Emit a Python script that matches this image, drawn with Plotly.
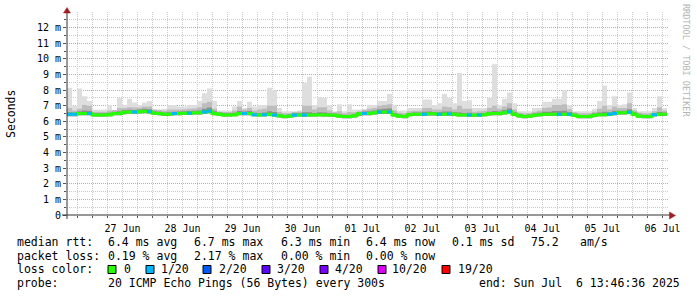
import plotly.graph_objects as go
from datetime import datetime, timedelta

# ---------------- data (2-hour steps from start) ----------------
start = datetime(2025, 6, 26, 13, 46, 36)
step_hours = 2

median = [
    6.45, 6.45, 6.50, 6.50, 6.50, 6.40, 6.40, 6.40, 6.42, 6.50,
    6.50, 6.58, 6.60, 6.60, 6.62, 6.65, 6.62, 6.52, 6.50, 6.45,
    6.45, 6.50, 6.50, 6.52, 6.52, 6.55, 6.55, 6.60, 6.65, 6.50,
    6.45, 6.40, 6.40, 6.42, 6.50, 6.50, 6.50, 6.42, 6.40, 6.42,
    6.45, 6.40, 6.35, 6.30, 6.32, 6.40, 6.40, 6.40, 6.40, 6.40,
    6.42, 6.40, 6.40, 6.38, 6.32, 6.30, 6.30, 6.35, 6.48, 6.50,
    6.50, 6.55, 6.60, 6.60, 6.60, 6.40, 6.33, 6.30, 6.42, 6.45,
    6.45, 6.45, 6.48, 6.48, 6.45, 6.45, 6.48, 6.45, 6.40, 6.40,
    6.40, 6.38, 6.40, 6.42, 6.48, 6.50, 6.50, 6.55, 6.62, 6.45,
    6.35, 6.30, 6.32, 6.38, 6.42, 6.45, 6.45, 6.45, 6.45, 6.45,
    6.45, 6.38, 6.30, 6.30, 6.30, 6.38, 6.42, 6.42, 6.45, 6.50,
    6.55, 6.55, 6.58, 6.45, 6.32, 6.30, 6.30, 6.42, 6.45, 6.45,
]

loss = [
    1, 1, 0, 0, 1, 0, 0, 0, 0, 0,
    0, 0, 0, 1, 0, 0, 1, 0, 0, 0,
    0, 1, 0, 0, 1, 0, 0, 1, 1, 0,
    0, 0, 0, 0, 0, 1, 0, 1, 0, 1,
    0, 1, 0, 0, 0, 1, 0, 1, 0, 0,
    0, 0, 0, 0, 0, 0, 0, 0, 0, 1,
    0, 0, 1, 0, 1, 0, 0, 0, 0, 0,
    0, 1, 0, 0, 1, 0, 1, 0, 0, 0,
    1, 0, 1, 0, 0, 0, 0, 0, 1, 0,
    0, 0, 0, 0, 0, 0, 0, 0, 1, 0,
    1, 0, 0, 0, 0, 0, 0, 0, 1, 1,
    0, 0, 1, 0, 0, 0, 0, 1, 0, 0,
]

smoke_max = [
    8.15, 7.00, 8.10, 7.60, 7.30, 6.75, 6.75, 6.75, 7.05, 6.70,
    7.50, 7.05, 7.45, 7.20, 7.05, 7.20, 7.30, 6.75, 6.75, 6.80,
    7.05, 7.05, 6.95, 6.95, 7.05, 7.05, 7.30, 7.80, 8.10, 7.30,
    6.70, 6.70, 6.70, 6.95, 7.30, 6.85, 7.25, 6.95, 7.05, 7.05,
    8.15, 8.00, 6.85, 6.65, 6.65, 6.65, 6.70, 8.45, 8.85, 7.05,
    7.55, 7.50, 7.05, 6.65, 7.10, 6.65, 7.10, 6.75, 6.75, 6.80,
    7.05, 7.05, 7.30, 7.30, 7.75, 7.05, 6.70, 6.70, 6.85, 6.85,
    6.85, 7.40, 7.40, 7.05, 7.15, 7.75, 7.50, 7.15, 9.10, 7.30,
    7.35, 6.85, 6.85, 6.85, 7.50, 9.65, 7.05, 7.45, 7.85, 7.15,
    6.65, 6.65, 6.65, 6.85, 6.85, 7.25, 7.25, 7.45, 7.45, 8.00,
    7.05, 6.65, 6.65, 6.65, 6.65, 6.80, 7.30, 8.30, 7.05, 7.60,
    7.05, 7.10, 7.85, 6.85, 6.65, 6.65, 6.65, 6.85, 7.60, 6.85,
]

smoke_mid = [
    6.85, 6.70, 6.80, 7.05, 7.00, 6.62, 6.62, 6.62, 6.70, 6.72,
    6.85, 6.85, 6.90, 6.88, 6.88, 6.95, 6.95, 6.75, 6.72, 6.68,
    6.75, 6.75, 6.75, 6.78, 6.80, 6.82, 6.90, 7.15, 7.25, 6.80,
    6.62, 6.60, 6.60, 6.70, 6.95, 6.75, 6.85, 6.70, 6.75, 6.80,
    7.00, 7.00, 6.60, 6.52, 6.52, 6.60, 6.62, 7.00, 7.00, 6.75,
    6.90, 6.90, 6.70, 6.58, 6.65, 6.52, 6.60, 6.58, 6.65, 6.72,
    6.80, 6.85, 7.00, 7.05, 7.10, 6.70, 6.55, 6.52, 6.65, 6.68,
    6.68, 6.85, 6.85, 6.75, 6.75, 6.95, 6.90, 6.75, 7.00, 6.80,
    6.80, 6.62, 6.65, 6.68, 6.85, 7.00, 6.80, 6.95, 7.15, 6.75,
    6.55, 6.52, 6.52, 6.62, 6.68, 6.85, 6.88, 7.05, 7.05, 7.10,
    6.78, 6.58, 6.52, 6.52, 6.52, 6.62, 6.80, 7.00, 6.75, 6.95,
    6.85, 6.85, 7.15, 6.70, 6.55, 6.52, 6.52, 6.65, 6.90, 6.70,
]

smoke_inner = [
    6.58, 6.57, 6.65, 6.70, 6.68, 6.52, 6.52, 6.52, 6.55, 6.62,
    6.65, 6.72, 6.74, 6.73, 6.76, 6.80, 6.78, 6.64, 6.62, 6.57,
    6.58, 6.62, 6.63, 6.65, 6.66, 6.68, 6.70, 6.80, 6.88, 6.64,
    6.56, 6.51, 6.51, 6.55, 6.66, 6.63, 6.66, 6.55, 6.53, 6.56,
    6.65, 6.60, 6.46, 6.41, 6.43, 6.52, 6.52, 6.58, 6.58, 6.53,
    6.58, 6.56, 6.52, 6.49, 6.44, 6.41, 6.41, 6.46, 6.60, 6.63,
    6.64, 6.70, 6.78, 6.80, 6.82, 6.54, 6.44, 6.41, 6.54, 6.57,
    6.57, 6.62, 6.63, 6.60, 6.58, 6.63, 6.63, 6.58, 6.56, 6.54,
    6.55, 6.49, 6.52, 6.54, 6.62, 6.66, 6.63, 6.72, 6.82, 6.58,
    6.46, 6.41, 6.43, 6.50, 6.55, 6.62, 6.62, 6.66, 6.66, 6.68,
    6.60, 6.49, 6.41, 6.41, 6.41, 6.50, 6.57, 6.62, 6.58, 6.68,
    6.68, 6.68, 6.78, 6.58, 6.44, 6.41, 6.41, 6.54, 6.60, 6.57,
]

smoke_min = [
    6.33, 6.33, 6.38, 6.38, 6.38, 6.30, 6.30, 6.30, 6.32, 6.38,
    6.38, 6.45, 6.48, 6.48, 6.50, 6.52, 6.50, 6.40, 6.38, 6.34,
    6.34, 6.38, 6.38, 6.40, 6.40, 6.43, 6.43, 6.47, 6.52, 6.38,
    6.34, 6.30, 6.30, 6.32, 6.38, 6.38, 6.38, 6.32, 6.30, 6.32,
    6.34, 6.30, 6.25, 6.20, 6.22, 6.30, 6.30, 6.30, 6.30, 6.30,
    6.32, 6.30, 6.30, 6.28, 6.22, 6.20, 6.20, 6.25, 6.36, 6.38,
    6.38, 6.43, 6.47, 6.47, 6.47, 6.30, 6.23, 6.20, 6.32, 6.34,
    6.34, 6.34, 6.37, 6.37, 6.34, 6.34, 6.37, 6.34, 6.30, 6.30,
    6.30, 6.28, 6.30, 6.32, 6.37, 6.38, 6.38, 6.43, 6.50, 6.34,
    6.25, 6.20, 6.22, 6.28, 6.32, 6.34, 6.34, 6.34, 6.34, 6.34,
    6.34, 6.28, 6.20, 6.20, 6.20, 6.28, 6.32, 6.32, 6.34, 6.38,
    6.43, 6.43, 6.46, 6.34, 6.22, 6.20, 6.20, 6.32, 6.34, 6.34,
]

day_labels = ["27 Jun", "28 Jun", "29 Jun", "30 Jun", "01 Jul",
              "02 Jul", "03 Jul", "04 Jul", "05 Jul", "06 Jul"]
y_ticks = list(range(0, 13))
y_labels = ["0"] + [f"{v} m" for v in range(1, 13)]

loss_legend = ["0", "1/20", "2/20", "3/20", "4/20", "10/20", "19/20"]
loss_colors = ["#26ff00", "#00b8ff", "#0059ff", "#5e00ff", "#7e00ff", "#dd00ff", "#ff0000"]

line1 = ["median rtt:", "6.4 ms avg", "6.7 ms max", "6.3 ms min", "6.4 ms now", "0.1 ms sd", "75.2", "am/s"]
line2 = ["packet loss:", "0.19 % avg", "2.17 % max", "0.00 % min", "0.00 % now"]
line4 = ["probe:", "20 ICMP Echo Pings (56 Bytes) every 300s", "end: Sun Jul  6 13:46:36 2025"]

# ---------------- geometry ----------------
W, H = 697, 297
ML, MR, MT, MB = 67, 29, 12, 82
PW = W - ML - MR
PH = H - MT - MB


def px(x):
    return (x - ML) / PW


def py(y):
    return (H - MB - y) / PH


MONO = "DejaVu Sans Mono"

n = len(median)
edges = [start + timedelta(hours=step_hours * k) for k in range(n + 1)]


def hv(vals):
    return list(vals) + [vals[-1]]


fig = go.Figure()

for lo, hi, col in [(smoke_min, smoke_max, "#dedede"),
                    (smoke_min, smoke_mid, "#bdbdbd"),
                    (smoke_min, smoke_inner, "#8e8e8e")]:
    fig.add_trace(go.Scatter(x=edges, y=hv(lo), mode="lines", line=dict(width=0, shape="hv"),
                             hoverinfo="skip", showlegend=False))
    fig.add_trace(go.Scatter(x=edges, y=hv(hi), mode="lines", line=dict(width=0, shape="hv"),
                             fill="tonexty", fillcolor=col, hoverinfo="skip", showlegend=False))

fig.add_trace(go.Scatter(x=edges, y=hv(median), mode="lines",
                         line=dict(color=loss_colors[0], width=3, shape="hv"),
                         hoverinfo="skip", showlegend=False))

lx, ly = [], []
for i, l in enumerate(loss):
    if l == 1:
        lx += [edges[i], edges[i + 1], None]
        ly += [median[i], median[i], None]
fig.add_trace(go.Scatter(x=lx, y=ly, mode="lines",
                         line=dict(color=loss_colors[1], width=3),
                         hoverinfo="skip", showlegend=False))

# ---------------- axes ----------------
end_range = start + timedelta(hours=240 * PW / 600)
noons = [datetime(2025, 6, 27, 12) + timedelta(days=d) for d in range(10)]
midnights = [datetime(2025, 6, 27) + timedelta(days=d) for d in range(10)]
six_h = []
t = datetime(2025, 6, 26, 18)
while t < end_range:
    six_h.append(t)
    t += timedelta(hours=6)

RED_GRID = "#e69a9a"
GRAY_GRID = "#cccccc"

fig.update_xaxes(
    type="date", range=[start, end_range],
    tickmode="array", tickvals=noons, ticktext=day_labels,
    ticks="outside", ticklen=4, tickcolor="rgba(0,0,0,0)",
    showgrid=False, zeroline=False, showline=False,
    tickfont=dict(family=MONO, size=10, color="#000"),
    minor=dict(tickvals=six_h, showgrid=True, gridcolor=GRAY_GRID, griddash="1px,1px",
               gridwidth=1, ticks="outside", ticklen=2, tickcolor="#555"),
)
fig.update_yaxes(
    range=[0, 13], tickmode="array", tickvals=y_ticks, ticktext=y_labels,
    showgrid=True, gridcolor=RED_GRID, griddash="1px,1px", gridwidth=1,
    ticks="outside", ticklen=3, tickcolor="#555",
    zeroline=False, showline=False,
    tickfont=dict(family=MONO, size=10, color="#000"),
    minor=dict(tickvals=[v + 0.5 for v in range(13)] + [13], showgrid=True,
               gridcolor=GRAY_GRID, griddash="1px,1px", gridwidth=1,
               ticks="outside", ticklen=2, tickcolor="#555"),
)

shapes = []
for m in midnights:
    shapes.append(dict(type="line", xref="x", yref="paper", x0=m, x1=m, y0=0, y1=1,
                       line=dict(color=RED_GRID, width=1, dash="1px,1px"), layer="between"))

AX = "#333333"
ARROW = "#a01e1e"
shapes.append(dict(type="line", xref="paper", yref="paper", x0=px(62), x1=px(670),
                   y0=0, y1=0, line=dict(color=AX, width=1), layer="above"))
shapes.append(dict(type="line", xref="paper", yref="paper", x0=0, x1=0,
                   y0=py(219), y1=py(10), line=dict(color=AX, width=1), layer="above"))
shapes.append(dict(type="path", xref="paper", yref="paper",
                   path=f"M {px(63.5)} {py(13)} L {px(70.5)} {py(13)} L {px(67)} {py(7.5)} Z",
                   fillcolor=ARROW, line=dict(color=ARROW, width=0.5), layer="above"))
shapes.append(dict(type="path", xref="paper", yref="paper",
                   path=f"M {px(669.5)} {py(212)} L {px(669.5)} {py(219)} L {px(675.5)} {py(215.5)} Z",
                   fillcolor=ARROW, line=dict(color=ARROW, width=0.5), layer="above"))

# legend squares
sq_x = [108, 146, 203, 262, 320, 378, 442]
txt_x = [123, 160, 218, 276, 334, 391, 457]
for sx, col in zip(sq_x, loss_colors):
    shapes.append(dict(type="rect", xref="paper", yref="paper",
                       x0=px(sx), x1=px(sx + 8), y0=py(273.5), y1=py(265.5),
                       fillcolor=col, line=dict(color="#000", width=1), layer="above"))

annotations = []
FS = 11.5


def add_text(x, y, s, size=FS, color="#000", angle=0, xanchor="left"):
    annotations.append(dict(xref="paper", yref="paper", x=px(x), y=py(y), text=s.replace("  ", "\u00a0\u00a0"),
                            showarrow=False, xanchor=xanchor, yanchor="middle", textangle=angle,
                            font=dict(family=MONO, size=size, color=color), borderpad=0))


for x, s in zip([16, 107, 193, 280, 365, 451, 530, 579], line1):
    add_text(x, 241.5, s)
for x, s in zip([16, 107, 193, 280, 365], line2):
    add_text(x, 255.5, s)
add_text(16, 269.3, "loss color:")
for x, s in zip(txt_x, loss_legend):
    add_text(x, 269.3, s)
for x, s in zip([16, 107, 478], line4):
    add_text(x, 283, s)

add_text(11, 114, "Seconds", size=FS, angle=-90, xanchor="center")
add_text(686, 60, "RRDTOOL / TOBI OETIKER", size=8.5, color="#b4b4b4", angle=90, xanchor="center")

fig.update_layout(
    width=W, height=H, margin=dict(l=ML, r=MR, t=MT, b=MB, pad=0),
    paper_bgcolor="white", plot_bgcolor="white", showlegend=False,
    shapes=shapes, annotations=annotations,
)

fig.write_html("out.html")
